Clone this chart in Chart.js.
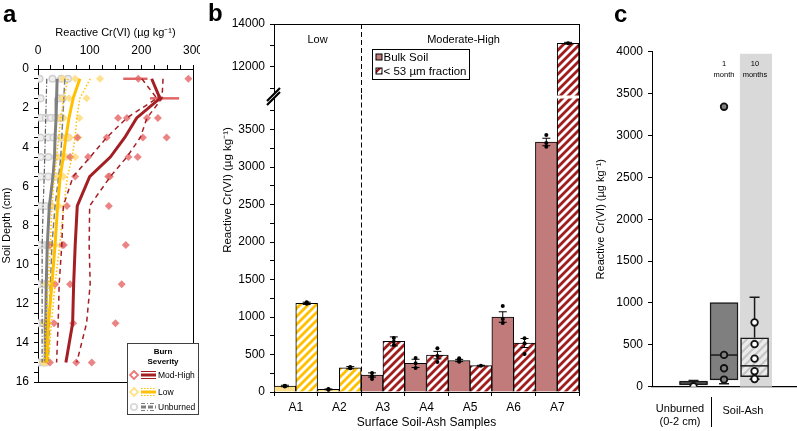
<!DOCTYPE html>
<html>
<head>
<meta charset="utf-8">
<script src="https://cdn.jsdelivr.net/npm/chart.js@4.4.0/dist/chart.umd.min.js"></script>
<style>
  body { margin: 0; background: #fff; width: 797px; height: 431px; position: relative; overflow: hidden;
         font-family: "Liberation Sans", Arial, sans-serif; }
  canvas { position: absolute; }
  .lbl { position: absolute; white-space: nowrap; color: #000; line-height: 1; }
  .letter { font-size: 24px; font-weight: bold; }
</style>
</head>
<body>
<canvas id="chartA" width="200" height="431" style="left:0;top:0"></canvas>
<canvas id="chartBTop" width="390" height="100" style="left:200px;top:0"></canvas>
<canvas id="chartBBot" width="390" height="346" style="left:200px;top:85px"></canvas>
<canvas id="chartC" width="207" height="431" style="left:590px;top:0"></canvas>

<div class="lbl letter" style="left:3px;top:2px">a</div>
<div class="lbl letter" style="left:208px;top:1px">b</div>
<div class="lbl letter" style="left:614px;top:2px">c</div>
<div class="lbl" style="left:128px;top:184px;width:200px;text-align:center;font-size:11.5px;transform:rotate(-90deg);transform-origin:100px 6px">Reactive Cr(VI) (µg kg⁻¹)</div>
<div class="lbl" style="left:655px;top:402px;width:50px;text-align:center;font-size:11px;line-height:13px">Unburned<br>(0-2 cm)</div>
<div class="lbl" style="left:711px;top:397px;width:1px;height:30px;background:#000"></div>
<div class="lbl" style="left:718px;top:405px;width:50px;text-align:center;font-size:11px">Soil-Ash</div>
<div class="lbl" style="left:704px;top:58px;width:40px;text-align:center;font-size:7.5px;line-height:11px">1<br>month</div>
<div class="lbl" style="left:735px;top:58px;width:40px;text-align:center;font-size:7.5px;line-height:11px">10<br>months</div>

<script>
// ---- panel a: depth profiles ----
const depthA = [0.5, 1.5, 2.5, 3.5, 4.5, 5.5, 7, 9, 11, 13, 15];
const modMean = [220, 236, 191, 168, 140, 100, 76, 72, 69, 67, 54];
const modUpper = [242, 240, 211, 198, 172, 140, 100, 99, 101, 94, 75];
const modLower = [201, 230, 172, 133, 101, 68, 49, 46, 41, 39, 36];
const lowMean = [81, 68, 60, 54, 49, 43, 38, 33, 27, 20, 17];
const lowUpper = [101, 81, 75, 72, 66, 57, 50, 42, 33, 26, 20];
const lowLower = [58, 50, 44, 40, 36, 32, 27, 24, 20, 15, 12];
const unbMean = [37, 36, 35, 33, 32, 29, 22, 18, 16, 15, 14];
const unbUpper = [52, 50, 48, 46, 44, 40, 33, 27, 24, 22, 20];
const unbLower = [17, 16, 15, 14, 13, 12, 10, 8, 8, 8, 8];
const modPts = [[194, 291], [235], [155, 172, 211, 232], [76, 133, 203, 249], [62, 97, 175, 193],
  [72, 136, 139], [56, 137], [23, 47, 50, 170], [33, 62, 162], [31, 68, 150], [23, 74, 104]];
const lowPts = [[48, 72, 120], [47, 60, 94], [40, 50, 80], [45, 62, 78], [38, 55, 72], [39, 49],
  [28, 40], [25, 33], [15, 22], [12, 20], [10, 15]];
const unbPts = [[3, 28, 45, 58], [5, 40, 48], [5, 15, 25, 35, 45], [5, 20, 30, 45, 58], [5, 20, 35, 48],
  [5, 20, 35], [5, 15, 25], [2, 15, 20], [2, 12], [2, 10], [2, 10, 15]];
const modErrDepth = [0.5, 1.5];
const modErrLo = [165, 217];
const modErrHi = [212, 273];

// ---- panel b: surface soil-ash samples ----
const samples = ["A1", "A2", "A3", "A4", "A5", "A6", "A7"];
const sampleGroup = ["Low", "Low", "Mod", "Mod", "Mod", "Mod", "Mod"];
const bulk = [80, 35, 227, 382, 420, 1000, 3335];
const bulkErr = [10, 5, 28, 55, 15, 70, 50];
const bulkPts = [[75, 80, 85], [30, 35, 40], [173, 211, 253], [320, 382, 453], [404, 427, 449], [920, 973, 1147], [3271, 3320, 3427]];
const fine = [1183, 324, 675, 492, 351, 653, 13100];
const fineErr = [15, 15, 60, 50, 5, 60, 40];
const finePts = [[1178, 1190, 1198], [318, 325, 332], [627, 671, 720], [400, 480, 585], [350], [507, 650, 718], [13100]];
const upperTicks = [11000, 12000, 13000, 14000];

// ---- panel c: box plots ----
const boxX = [1, 2, 3];
const boxQ1 = [20, 82, 119];
const boxMed = [44, 378, 249];
const boxQ3 = [68, 1005, 583];
const boxLo = [20, 35, 88];
const boxHi = [75, 1005, 1067];
const unbSurf = [5];
const month1 = [85, 220, 380, 3343];
const month10 = [92, 185, 335, 508, 767];

const FONT = '"Liberation Sans", Arial, sans-serif';
Chart.defaults.font.family = FONT;
Chart.defaults.color = "#000";
Chart.defaults.animation = false;
Chart.defaults.layout.autoPadding = false;
Chart.defaults.plugins.legend.display = false;
Chart.defaults.plugins.tooltip.enabled = false;

function hatch(ctx, color, bg, width) {
  const s = 8;
  const c = document.createElement("canvas");
  c.width = s; c.height = s;
  const g = c.getContext("2d");
  g.fillStyle = bg; g.fillRect(0, 0, s, s);
  g.strokeStyle = color; g.lineWidth = width;
  g.beginPath();
  g.moveTo(0, s); g.lineTo(s, 0);
  g.moveTo(-s / 2, s / 2); g.lineTo(s / 2, -s / 2);
  g.moveTo(s / 2, s * 1.5); g.lineTo(s * 1.5, s / 2);
  g.stroke();
  return ctx.createPattern(c, "repeat");
}

// ================= panel a =================
const modColor = "#A31F24", lowColor = "#FFC000", unbColor = "#7F7F7F";
const lineOf = (arr) => arr.map((v, i) => ({ x: v, y: depthA[i] }));
const ptsOf = (arr) => arr.flatMap((vals, i) => vals.map((v) => ({ x: v, y: depthA[i] })));
const lineDs = (data, color, width, dash, order) => ({
  data: lineOf(data), showLine: true, borderColor: color, borderWidth: width,
  borderDash: dash, pointRadius: 0, order: order, tension: 0,
});

const frameA = {
  id: "frameA",
  afterDraw(chart) {
    const { ctx, chartArea: a } = chart;
    ctx.save();
    ctx.strokeStyle = "#000"; ctx.lineWidth = 1;
    ctx.beginPath();
    ctx.moveTo(a.right + 0.5, a.top); ctx.lineTo(a.right + 0.5, a.bottom + 0.5); ctx.lineTo(a.left, a.bottom + 0.5);
    ctx.stroke();

    // legend box
    ctx.fillStyle = "#fff"; ctx.strokeStyle = "#404040";
    ctx.fillRect(127.5, 343.5, 71, 71); ctx.strokeRect(127.5, 343.5, 71, 71);
    ctx.fillStyle = "#000"; ctx.textAlign = "center"; ctx.textBaseline = "middle";
    ctx.font = "bold 8px " + FONT;
    ctx.fillText("Burn", 163, 352); ctx.fillText("Severity", 163, 362);
    ctx.textAlign = "left"; ctx.font = "8.5px " + FONT;
    const rows = [
      { name: "Mod-High", y: 375, c: modColor, pt: "#E87A7A", side: [], mid: [] },
      { name: "Low", y: 392, c: lowColor, pt: "#FFE08A", side: [1.5, 1.5], mid: [] },
      { name: "Unburned", y: 407, c: unbColor, pt: "#D9D9D9", side: [4, 2, 1, 2], mid: [5, 2] },
    ];
    rows.forEach((r, k) => {
      ctx.strokeStyle = r.pt; ctx.lineWidth = 1.8;
      ctx.beginPath();
      if (k === 2) ctx.arc(134, r.y, 3.2, 0, Math.PI * 2);
      else { ctx.moveTo(134, r.y - 4); ctx.lineTo(138, r.y); ctx.lineTo(134, r.y + 4); ctx.lineTo(130, r.y); ctx.closePath(); }
      ctx.stroke();
      ctx.strokeStyle = r.c; ctx.lineWidth = 1; ctx.setLineDash(r.side);
      ctx.beginPath();
      ctx.moveTo(141, r.y - 3.5); ctx.lineTo(156, r.y - 3.5);
      ctx.moveTo(141, r.y + 3.5); ctx.lineTo(156, r.y + 3.5);
      ctx.stroke();
      ctx.lineWidth = 3; ctx.setLineDash(r.mid);
      ctx.beginPath(); ctx.moveTo(141, r.y); ctx.lineTo(156, r.y); ctx.stroke();
      ctx.setLineDash([]);
      ctx.fillText(r.name, 158, r.y + 0.5);
    });
    ctx.restore();
  },
};

new Chart(document.getElementById("chartA"), {
  type: "scatter",
  data: {
    datasets: [
      lineDs(modMean, modColor, 3, [], 0),
      lineDs(modUpper, modColor, 1.5, [5, 4], 1),
      lineDs(modLower, modColor, 1.5, [5, 4], 1),
      lineDs(lowMean, lowColor, 3, [], 2),
      lineDs(lowUpper, lowColor, 1.5, [1.5, 2], 3),
      lineDs(lowLower, lowColor, 1.5, [1.5, 2], 3),
      lineDs(unbMean, unbColor, 3, [], 4),
      lineDs(unbUpper, "#808080", 1.5, [6, 3], 5),
      lineDs(unbLower, "#595959", 1.2, [5, 2, 1, 2], 5),
      ...modErrDepth.map((d, i) => ({
        data: [{ x: modErrLo[i], y: d }, { x: modErrHi[i], y: d }], showLine: true,
        borderColor: "#E06666", borderWidth: 2.5, pointRadius: 0, order: 6,
      })),
      { data: ptsOf(modPts), pointStyle: "rectRot", pointRadius: 4, backgroundColor: "rgba(230,110,112,0.85)", borderWidth: 0, order: 7 },
      { data: ptsOf(lowPts), pointStyle: "rectRot", pointRadius: 4, backgroundColor: "rgba(255,221,130,0.9)", borderWidth: 0, order: 8 },
      { data: ptsOf(unbPts), pointStyle: "circle", pointRadius: 3.3, backgroundColor: "#EEEEEE", borderColor: "#D0D0D0", borderWidth: 1.5, order: 9 },
    ],
  },
  options: {
    responsive: false,
    layout: { padding: { left: 0, right: 7, top: 0, bottom: 49 } },
    scales: {
      x: {
        type: "linear", position: "top", min: 0, max: 300,
        ticks: { stepSize: 25, font: { size: 12 }, padding: 7, autoSkip: false, maxRotation: 0,
          callback: (v) => (v % 100 === 0 ? v : "") },
        grid: { drawOnChartArea: false, tickLength: 4, color: "#000" },
        border: { color: "#000", width: 1 },
        title: { display: true, text: "Reactive Cr(VI) (µg kg⁻¹)", font: { size: 11 }, padding: { top: 26, bottom: 0 } },
        afterFit: (s) => { s.height = 69; s.paddingLeft = 0; s.paddingRight = 0; },
      },
      y: {
        type: "linear", reverse: true, min: 0, max: 16,
        ticks: { stepSize: 0.5, font: { size: 12 }, padding: 5, autoSkip: false,
          callback: (v) => (v % 2 === 0 ? v : "") },
        grid: { drawOnChartArea: false, tickLength: 4, color: "#000" },
        border: { color: "#000", width: 1 },
        title: { display: true, text: "Soil Depth (cm)", font: { size: 11 }, padding: { top: 0, bottom: 0 } },
        afterFit: (s) => { s.width = 38; s.paddingTop = 0; s.paddingBottom = 0; },
      },
    },
  },
  plugins: [frameA],
});

// ================= panel b =================
const ctxBTop = document.getElementById("chartBTop").getContext("2d");
const ctxBBot = document.getElementById("chartBBot").getContext("2d");

function barDatasets(ctx) {
  return [
    {
      label: "Bulk Soil", data: bulk,
      backgroundColor: sampleGroup.map((g) => (g === "Low" ? "#FFE08C" : "#C27B7B")),
      borderColor: "#000", borderWidth: 1, categoryPercentage: 1, barPercentage: 1,
    },
    {
      label: "< 53 µm fraction", data: fine,
      backgroundColor: sampleGroup.map((g) => hatch(ctx, g === "Low" ? "#FFC000" : "#A11D1D", "#fff", 2.8)),
      borderColor: "#000", borderWidth: 1, categoryPercentage: 1, barPercentage: 1,
    },
  ];
}

const errB = {
  id: "errB",
  afterDatasetsDraw(chart) {
    const { ctx, chartArea: a, scales: { y } } = chart;
    ctx.save();
    ctx.beginPath(); ctx.rect(a.left, a.top - 1, a.right - a.left, a.bottom - a.top + 2); ctx.clip();
    [[bulk, bulkErr, bulkPts], [fine, fineErr, finePts]].forEach(([vals, errs, pts], di) => {
      chart.getDatasetMeta(di).data.forEach((bar, j) => {
        const x = bar.x;
        const hi = y.getPixelForValue(vals[j] + errs[j]);
        const lo = y.getPixelForValue(vals[j] - errs[j]);
        ctx.strokeStyle = "#000"; ctx.lineWidth = 1;
        ctx.beginPath();
        ctx.moveTo(x, hi); ctx.lineTo(x, lo);
        ctx.moveTo(x - 4, hi); ctx.lineTo(x + 4, hi);
        ctx.moveTo(x - 4, lo); ctx.lineTo(x + 4, lo);
        ctx.stroke();
        ctx.fillStyle = "#000";
        pts[j].forEach((v) => {
          ctx.beginPath(); ctx.arc(x, y.getPixelForValue(v), 2, 0, Math.PI * 2); ctx.fill();
        });
      });
    });
    ctx.restore();
  },
};

function dividerB(chart, yStart) {
  const { ctx, chartArea: a, scales: { x } } = chart;
  const px = Math.round(x.getPixelForValue(1.5)) + 0.5;
  ctx.save();
  ctx.strokeStyle = "#000"; ctx.lineWidth = 1; ctx.setLineDash([5, 3]);
  ctx.beginPath(); ctx.moveTo(px, yStart); ctx.lineTo(px, a.bottom); ctx.stroke();
  ctx.setLineDash([]);
  ctx.beginPath(); ctx.moveTo(a.right + 0.5, yStart); ctx.lineTo(a.right + 0.5, a.bottom); ctx.stroke();
  ctx.restore();
}

const topDeco = {
  id: "topDeco",
  afterDraw(chart) {
    const { ctx, chartArea: a, scales: { x } } = chart;
    dividerB(chart, a.top);
    ctx.save();
    ctx.strokeStyle = "#000"; ctx.lineWidth = 1;
    ctx.beginPath(); ctx.moveTo(a.left, a.top + 0.5); ctx.lineTo(a.right + 1, a.top + 0.5); ctx.stroke();
    ctx.fillStyle = "#000"; ctx.font = "11px " + FONT; ctx.textAlign = "center"; ctx.textBaseline = "middle";
    ctx.fillText("Low", x.getPixelForValue(0.5), 40);
    ctx.fillText("Moderate-High", x.getPixelForValue(3.85), 40);
    // legend
    const lx = 172.5, ly = 49.5;
    ctx.fillStyle = "#fff"; ctx.fillRect(lx, ly, 97, 30);
    ctx.strokeRect(lx, ly, 97, 30);
    ctx.fillStyle = "#C27B7B"; ctx.fillRect(lx + 3.5, ly + 4.5, 6, 6); ctx.strokeRect(lx + 3.5, ly + 4.5, 6, 6);
    ctx.fillStyle = hatch(ctx, "#A11D1D", "#fff", 2.4); ctx.fillRect(lx + 3.5, ly + 18.5, 6, 6);
    ctx.strokeRect(lx + 3.5, ly + 18.5, 6, 6);
    ctx.fillStyle = "#000"; ctx.font = "11.5px " + FONT; ctx.textAlign = "left";
    ctx.fillText("Bulk Soil", lx + 11, ly + 8);
    ctx.fillText("< 53 µm fraction", lx + 11, ly + 22);
    ctx.restore();
  },
};

const botDeco = {
  id: "botDeco",
  afterDraw(chart) {
    const { ctx, chartArea: a } = chart;
    dividerB(chart, a.top - 4);
    const x = a.left, yb = a.top - 1.5;
    ctx.save();
    ctx.fillStyle = "#fff";
    ctx.beginPath();
    ctx.moveTo(x - 7, yb + 4); ctx.lineTo(x + 6, yb - 9); ctx.lineTo(x + 6, yb - 5); ctx.lineTo(x - 7, yb + 8);
    ctx.closePath(); ctx.fill();
    ctx.strokeStyle = "#000"; ctx.lineWidth = 2.2;
    ctx.beginPath();
    ctx.moveTo(x - 7, yb + 4); ctx.lineTo(x + 6, yb - 9);
    ctx.moveTo(x - 7, yb + 8); ctx.lineTo(x + 6, yb - 5);
    ctx.stroke();
    ctx.restore();
  },
};

const yAxisB = (min, max, step, labelStep, width, fixedTicks) => ({
  min: min, max: max,
  ticks: { stepSize: step, includeBounds: false, autoSkip: false, font: { size: 12 }, padding: 5,
    callback: (v) => (v % labelStep === 0 ? String(v) : "") },
  grid: { drawOnChartArea: false, tickLength: 4, color: "#000" },
  border: { color: "#000", width: 1 },
  afterBuildTicks: (s) => { if (fixedTicks) s.ticks = fixedTicks.map((v) => ({ value: v })); },
  afterFit: (s) => { s.width = width; s.paddingTop = 0; s.paddingBottom = 0; },
});

new Chart(ctxBTop, {
  type: "bar",
  data: { labels: samples, datasets: barDatasets(ctxBTop) },
  options: {
    responsive: false,
    layout: { padding: { left: 0, right: 11, top: 24, bottom: 4.5 } },
    scales: {
      x: { display: false },
      y: yAxisB(10650, 14000, 1000, 2000, 74, upperTicks),
    },
  },
  plugins: [errB, topDeco],
});

new Chart(ctxBBot, {
  type: "bar",
  data: { labels: samples, datasets: barDatasets(ctxBBot) },
  options: {
    responsive: false,
    layout: { padding: { left: 0, right: 11, top: 13.5, bottom: 0 } },
    scales: {
      x: {
        ticks: { font: { size: 12 }, padding: 4, maxRotation: 0 },
        grid: { drawOnChartArea: false, tickLength: 4, color: "#000" },
        border: { color: "#000", width: 1 },
        title: { display: true, text: "Surface Soil-Ash Samples", font: { size: 12 }, padding: { top: 0, bottom: 1 } },
        afterFit: (s) => { s.height = 39; s.paddingLeft = 0; s.paddingRight = 0; },
      },
      y: yAxisB(0, 3915, 250, 500, 74, null),
    },
  },
  plugins: [errB, botDeco],
});

// ================= panel c =================
const ctxC = document.getElementById("chartC").getContext("2d");

const boxDeco = {
  id: "boxDeco",
  beforeDatasetsDraw(chart) {
    const { ctx, chartArea: a, scales: { x, y } } = chart;
    ctx.save();
    ctx.fillStyle = "#D9D9D9";
    const l = x.getPixelForValue(2.52), r = x.getPixelForValue(3.57), t = y.getPixelForValue(3975);
    ctx.fillRect(l, t, r - l, a.bottom - t);
    ctx.restore();
  },
  afterDatasetDraw(chart, args) {
    if (args.index !== 3) return;
    const { ctx, scales: { x, y } } = chart;
    ctx.save();
    ctx.strokeStyle = "#1A1A1A"; ctx.lineWidth = 1.5;
    boxX.forEach((bx, i) => {
      const cx = x.getPixelForValue(bx);
      const m = y.getPixelForValue(boxMed[i]);
      ctx.beginPath(); ctx.moveTo(cx - 14, m); ctx.lineTo(cx + 14, m); ctx.stroke();
      const q1 = y.getPixelForValue(boxQ1[i]), q3 = y.getPixelForValue(boxQ3[i]);
      const lo = y.getPixelForValue(boxLo[i]), hi = y.getPixelForValue(boxHi[i]);
      ctx.beginPath();
      if (hi < q3 - 0.5) { ctx.moveTo(cx, q3); ctx.lineTo(cx, hi); ctx.moveTo(cx - 5, hi); ctx.lineTo(cx + 5, hi); }
      if (lo > q1 + 0.5) { ctx.moveTo(cx, q1); ctx.lineTo(cx, lo); ctx.moveTo(cx - 5, lo); ctx.lineTo(cx + 5, lo); }
      ctx.stroke();
    });
    ctx.restore();
  },
};

const ptDs = (x, vals, fill, order) => ({
  type: "scatter", data: vals.map((v) => ({ x: x, y: v })),
  pointStyle: "circle", pointRadius: 3.3, backgroundColor: fill, borderColor: "#111", borderWidth: 1.8, order: order,
});

new Chart(ctxC, {
  type: "bar",
  data: {
    datasets: [
      ptDs(boxX[0], unbSurf, "#fff", 0),
      ptDs(boxX[1], month1, "#808080", 0),
      ptDs(boxX[2], month10, "#fff", 0),
      {
        type: "bar",
        data: boxX.map((bx, i) => ({ x: bx, y: [boxQ1[i], boxQ3[i]] })),
        backgroundColor: ["#E8E8E8", "#7F7F7F", hatch(ctxC, "#C6C6C6", "#EBEBEB", 2.2)],
        borderColor: "#1A1A1A", borderWidth: 1.5, borderSkipped: false, barThickness: 28, order: 5,
      },
    ],
  },
  options: {
    responsive: false,
    layout: { padding: { left: 0, right: 0, top: 51.7, bottom: 0 } },
    scales: {
      x: {
        type: "linear", min: -0.36, max: 4.39, offset: false,
        ticks: { display: false }, grid: { display: false, offset: false },
        border: { color: "#000", width: 1.2 },
        afterFit: (s) => { s.height = 44.3; s.paddingLeft = 0; s.paddingRight = 0; },
      },
      y: {
        min: 0, max: 4000,
        ticks: { stepSize: 500, font: { size: 12 }, padding: 5, callback: (v) => String(v) },
        grid: { drawOnChartArea: false, tickLength: 4, color: "#000" },
        border: { color: "#000", width: 1 },
        title: { display: true, text: "Reactive Cr(VI) (µg kg⁻¹)", font: { size: 11 }, padding: { top: 4, bottom: 0 } },
        afterFit: (s) => { s.width = 62; s.paddingTop = 0; s.paddingBottom = 0; },
      },
    },
  },
  plugins: [boxDeco],
});
</script>
</body>
</html>
